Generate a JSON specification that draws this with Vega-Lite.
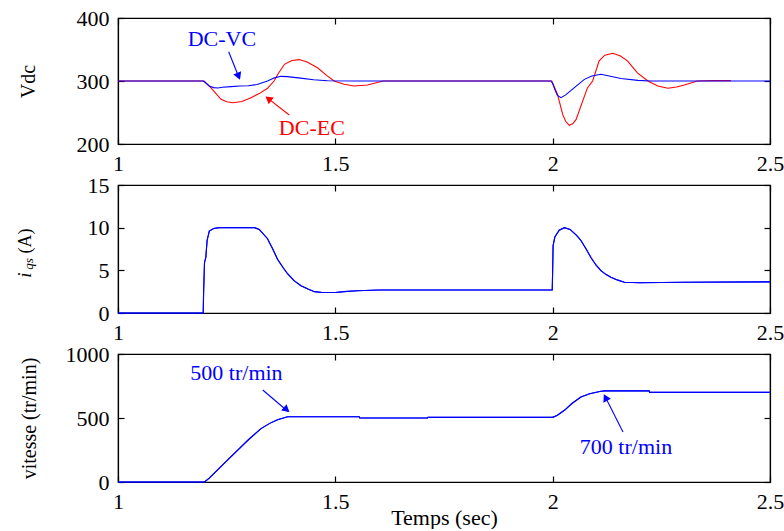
{
  "$schema": "https://vega.github.io/schema/vega-lite/v6.json",
  "padding": {"left": 15, "top": 6, "right": 0, "bottom": 0},
  "background": "white",
  "spacing": 41,
  "bounds": "flush",
  "config": {
    "font": "Liberation Serif",
    "view": {"stroke": "black", "strokeWidth": 1.2},
    "axis": {
      "grid": false,
      "domainColor": "black",
      "domainWidth": 1.2,
      "tickColor": "black",
      "tickSize": -6,
      "tickWidth": 1.2,
      "labelFont": "Liberation Serif",
      "labelFontSize": 22,
      "labelColor": "black",
      "labelPadding": 15,
      "labelFlush": false,
      "labelOverlap": false,
      "labelBound": false,
      "titleFont": "Liberation Serif",
      "titleFontSize": 20,
      "titleFontWeight": "normal",
      "titleColor": "black"
    }
  },
  "datasets": {
    "vdc": [
      {"serie": "DC-EC", "t": 1.0, "v": 300}, {"serie": "DC-EC", "t": 1.198, "v": 300}, {"serie": "DC-EC", "t": 1.214, "v": 289}, {"serie": "DC-EC", "t": 1.237, "v": 271}, {"serie": "DC-EC", "t": 1.25, "v": 267}, {"serie": "DC-EC", "t": 1.264, "v": 265.6}, {"serie": "DC-EC", "t": 1.285, "v": 267.5}, {"serie": "DC-EC", "t": 1.306, "v": 273.5}, {"serie": "DC-EC", "t": 1.325, "v": 280}, {"serie": "DC-EC", "t": 1.344, "v": 288.4}, {"serie": "DC-EC", "t": 1.359, "v": 300}, {"serie": "DC-EC", "t": 1.37, "v": 313}, {"serie": "DC-EC", "t": 1.383, "v": 326.5}, {"serie": "DC-EC", "t": 1.4, "v": 332.5}, {"serie": "DC-EC", "t": 1.417, "v": 334}, {"serie": "DC-EC", "t": 1.435, "v": 330}, {"serie": "DC-EC", "t": 1.459, "v": 321}, {"serie": "DC-EC", "t": 1.48, "v": 309}, {"serie": "DC-EC", "t": 1.497, "v": 300}, {"serie": "DC-EC", "t": 1.52, "v": 294.7}, {"serie": "DC-EC", "t": 1.543, "v": 292}, {"serie": "DC-EC", "t": 1.574, "v": 293.7}, {"serie": "DC-EC", "t": 1.61, "v": 300}, {"serie": "DC-EC", "t": 1.998, "v": 300}, {"serie": "DC-EC", "t": 2.004, "v": 290}, {"serie": "DC-EC", "t": 2.011, "v": 279}, {"serie": "DC-EC", "t": 2.023, "v": 247}, {"serie": "DC-EC", "t": 2.03, "v": 236}, {"serie": "DC-EC", "t": 2.038, "v": 229.7}, {"serie": "DC-EC", "t": 2.046, "v": 232}, {"serie": "DC-EC", "t": 2.054, "v": 239}, {"serie": "DC-EC", "t": 2.069, "v": 268}, {"serie": "DC-EC", "t": 2.08, "v": 289}, {"serie": "DC-EC", "t": 2.092, "v": 300}, {"serie": "DC-EC", "t": 2.107, "v": 332}, {"serie": "DC-EC", "t": 2.12, "v": 341}, {"serie": "DC-EC", "t": 2.138, "v": 344}, {"serie": "DC-EC", "t": 2.155, "v": 340}, {"serie": "DC-EC", "t": 2.172, "v": 332}, {"serie": "DC-EC", "t": 2.195, "v": 313}, {"serie": "DC-EC", "t": 2.219, "v": 300}, {"serie": "DC-EC", "t": 2.242, "v": 292}, {"serie": "DC-EC", "t": 2.265, "v": 288.4}, {"serie": "DC-EC", "t": 2.285, "v": 290.5}, {"serie": "DC-EC", "t": 2.303, "v": 293.7}, {"serie": "DC-EC", "t": 2.333, "v": 300}, {"serie": "DC-EC", "t": 2.37, "v": 300.6}, {"serie": "DC-EC", "t": 2.41, "v": 300.6},
      {"serie": "DC-VC", "t": 1.0, "v": 300}, {"serie": "DC-VC", "t": 1.196, "v": 300}, {"serie": "DC-VC", "t": 1.2, "v": 298}, {"serie": "DC-VC", "t": 1.21, "v": 292}, {"serie": "DC-VC", "t": 1.22, "v": 289.5}, {"serie": "DC-VC", "t": 1.23, "v": 289}, {"serie": "DC-VC", "t": 1.24, "v": 290}, {"serie": "DC-VC", "t": 1.26, "v": 291}, {"serie": "DC-VC", "t": 1.28, "v": 292}, {"serie": "DC-VC", "t": 1.3, "v": 292.5}, {"serie": "DC-VC", "t": 1.32, "v": 294.5}, {"serie": "DC-VC", "t": 1.344, "v": 300}, {"serie": "DC-VC", "t": 1.36, "v": 305}, {"serie": "DC-VC", "t": 1.375, "v": 307.4}, {"serie": "DC-VC", "t": 1.39, "v": 307}, {"serie": "DC-VC", "t": 1.42, "v": 304.5}, {"serie": "DC-VC", "t": 1.45, "v": 302}, {"serie": "DC-VC", "t": 1.482, "v": 300.3}, {"serie": "DC-VC", "t": 1.55, "v": 300}, {"serie": "DC-VC", "t": 1.996, "v": 300}, {"serie": "DC-VC", "t": 2.0, "v": 296}, {"serie": "DC-VC", "t": 2.006, "v": 285}, {"serie": "DC-VC", "t": 2.011, "v": 277}, {"serie": "DC-VC", "t": 2.019, "v": 273.5}, {"serie": "DC-VC", "t": 2.03, "v": 278}, {"serie": "DC-VC", "t": 2.05, "v": 289.4}, {"serie": "DC-VC", "t": 2.073, "v": 302.6}, {"serie": "DC-VC", "t": 2.09, "v": 308}, {"serie": "DC-VC", "t": 2.111, "v": 310.6}, {"serie": "DC-VC", "t": 2.13, "v": 308}, {"serie": "DC-VC", "t": 2.157, "v": 304}, {"serie": "DC-VC", "t": 2.196, "v": 301}, {"serie": "DC-VC", "t": 2.226, "v": 300}, {"serie": "DC-VC", "t": 2.5, "v": 300}
    ],
    "iqs": [
      {"t": 1.0, "i": 0}, {"t": 1.196, "i": 0}, {"t": 1.197, "i": 2.5}, {"t": 1.199, "i": 5.9}, {"t": 1.202, "i": 6.5}, {"t": 1.205, "i": 8.5}, {"t": 1.21, "i": 9.6}, {"t": 1.22, "i": 9.9}, {"t": 1.233, "i": 10}, {"t": 1.314, "i": 10}, {"t": 1.325, "i": 9.8}, {"t": 1.344, "i": 8.7}, {"t": 1.356, "i": 7.5}, {"t": 1.367, "i": 6.3}, {"t": 1.38, "i": 5.3}, {"t": 1.39, "i": 4.6}, {"t": 1.405, "i": 3.8}, {"t": 1.421, "i": 3.2}, {"t": 1.437, "i": 2.8}, {"t": 1.452, "i": 2.5}, {"t": 1.47, "i": 2.4}, {"t": 1.5, "i": 2.4}, {"t": 1.52, "i": 2.5}, {"t": 1.55, "i": 2.6}, {"t": 1.6, "i": 2.7}, {"t": 1.999, "i": 2.7}, {"t": 2.0, "i": 5}, {"t": 2.001, "i": 7.9}, {"t": 2.005, "i": 8.9}, {"t": 2.015, "i": 9.7}, {"t": 2.027, "i": 10.0}, {"t": 2.04, "i": 9.8}, {"t": 2.055, "i": 9.1}, {"t": 2.065, "i": 8.5}, {"t": 2.077, "i": 7.5}, {"t": 2.088, "i": 6.5}, {"t": 2.1, "i": 5.6}, {"t": 2.111, "i": 4.96}, {"t": 2.123, "i": 4.5}, {"t": 2.134, "i": 4.2}, {"t": 2.15, "i": 3.85}, {"t": 2.165, "i": 3.6}, {"t": 2.2, "i": 3.55}, {"t": 2.3, "i": 3.6}, {"t": 2.5, "i": 3.65}
    ],
    "vitesse": [
      {"t": 1.0, "w": 0}, {"t": 1.199, "w": 0}, {"t": 1.21, "w": 30}, {"t": 1.25, "w": 165}, {"t": 1.3, "w": 330}, {"t": 1.329, "w": 417}, {"t": 1.35, "w": 460}, {"t": 1.367, "w": 487}, {"t": 1.39, "w": 510}, {"t": 1.555, "w": 510}, {"t": 1.556, "w": 500}, {"t": 1.712, "w": 500}, {"t": 1.713, "w": 505}, {"t": 2.0, "w": 505}, {"t": 2.01, "w": 520}, {"t": 2.027, "w": 560}, {"t": 2.045, "w": 615}, {"t": 2.065, "w": 664}, {"t": 2.085, "w": 690}, {"t": 2.111, "w": 709}, {"t": 2.12, "w": 712}, {"t": 2.222, "w": 712}, {"t": 2.223, "w": 700}, {"t": 2.5, "w": 700}
    ]
  },
  "vconcat": [
    {
      "width": 652,
      "height": 126,
      "resolve": {"axis": {"x": "independent", "y": "independent"}},
      "layer": [
        {
          "data": {"name": "vdc"},
          "transform": [{"filter": "datum.serie == 'DC-EC'"}],
          "mark": {"type": "line", "color": "#ff0000", "strokeWidth": 1.1},
          "encoding": {
            "x": {"field": "t", "type": "quantitative", "scale": {"domain": [1, 2.5], "nice": false}, "axis": {"orient": "top", "labels": false, "title": null, "values": [1, 1.5, 2, 2.5]}},
            "y": {"field": "v", "type": "quantitative", "scale": {"domain": [200, 400], "nice": false}, "axis": {"orient": "right", "labels": false, "title": null, "values": [200, 300, 400]}}
          }
        },
        {
          "data": {"name": "vdc"},
          "transform": [{"filter": "datum.serie == 'DC-VC'"}],
          "mark": {"type": "line", "color": "#0000ff", "strokeWidth": 1.1},
          "encoding": {
            "x": {"field": "t", "type": "quantitative", "scale": {"domain": [1, 2.5], "nice": false}, "axis": {"orient": "bottom", "title": null, "values": [1, 1.5, 2, 2.5], "format": "~g"}},
            "y": {"field": "v", "type": "quantitative", "scale": {"domain": [200, 400], "nice": false}, "axis": {"orient": "left", "title": "Vdc", "titlePadding": 38, "values": [200, 300, 400], "format": "d"}}
          }
        },
        {
          "data": {"values": [{"t": 1.2546, "v": 346.5, "t2": 1.279, "v2": 304.3}]},
          "mark": {"type": "rule", "color": "#0000ff", "strokeWidth": 1.1},
          "encoding": {
            "x": {"field": "t", "type": "quantitative", "axis": null}, "y": {"field": "v", "type": "quantitative", "axis": null},
            "x2": {"field": "t2"}, "y2": {"field": "v2"}
          }
        },
        {
          "data": {"values": [{"t": 1.2775, "v": 307.5}]},
          "mark": {"type": "point", "shape": "triangle-up", "filled": true, "color": "#0000ff", "size": 70, "angle": 158, "opacity": 1},
          "encoding": {"x": {"field": "t", "type": "quantitative", "axis": null}, "y": {"field": "v", "type": "quantitative", "axis": null}}
        },
        {
          "data": {"values": [{"t": 1.394, "v": 246, "t2": 1.342, "v2": 274}]},
          "mark": {"type": "rule", "color": "#ff0000", "strokeWidth": 1.1},
          "encoding": {
            "x": {"field": "t", "type": "quantitative", "axis": null}, "y": {"field": "v", "type": "quantitative", "axis": null},
            "x2": {"field": "t2"}, "y2": {"field": "v2"}
          }
        },
        {
          "data": {"values": [{"t": 1.346, "v": 272}]},
          "mark": {"type": "point", "shape": "triangle-up", "filled": true, "color": "#ff0000", "size": 70, "angle": 308, "opacity": 1},
          "encoding": {"x": {"field": "t", "type": "quantitative", "axis": null}, "y": {"field": "v", "type": "quantitative", "axis": null}}
        },
        {
          "data": {"values": [{"t": 1.239, "v": 366, "lab": "DC-VC", "c": "DC-VC"}, {"t": 1.446, "v": 225.4, "lab": "DC-EC", "c": "DC-EC"}]},
          "mark": {"type": "text", "fontSize": 22, "align": "center", "baseline": "middle"},
          "encoding": {
            "x": {"field": "t", "type": "quantitative", "axis": null}, "y": {"field": "v", "type": "quantitative", "axis": null},
            "text": {"field": "lab"},
            "color": {"field": "c", "type": "nominal", "scale": {"domain": ["DC-VC", "DC-EC"], "range": ["#0000ff", "#ff0000"]}, "legend": null}
          }
        }
      ]
    },
    {
      "width": 652,
      "height": 128,
      "resolve": {"axis": {"x": "independent", "y": "independent"}},
      "layer": [
        {
          "data": {"name": "iqs"},
          "mark": {"type": "line", "color": "#0000ff", "strokeWidth": 1.1},
          "encoding": {
            "x": {"field": "t", "type": "quantitative", "scale": {"domain": [1, 2.5], "nice": false}, "axis": {"orient": "bottom", "title": null, "values": [1, 1.5, 2, 2.5], "format": "~g"}},
            "y": {"field": "i", "type": "quantitative", "scale": {"domain": [0, 15], "nice": false}, "axis": {"orient": "left", "title": null, "values": [0, 5, 10, 15]}}
          }
        },
        {
          "data": {"name": "iqs"},
          "mark": {"type": "line", "color": "#0000ff", "strokeWidth": 1.1},
          "encoding": {
            "x": {"field": "t", "type": "quantitative", "scale": {"domain": [1, 2.5], "nice": false}, "axis": {"orient": "top", "labels": false, "title": null, "values": [1, 1.5, 2, 2.5]}},
            "y": {"field": "i", "type": "quantitative", "scale": {"domain": [0, 15], "nice": false}, "axis": {"orient": "right", "labels": false, "title": null, "values": [0, 5, 10, 15]}}
          }
        },
        {
          "data": {"values": [{"t": 0.786, "v": 4.45, "lab": "i"}, {"t": 0.7953, "v": 5.74, "lab": "qs"}]},
          "mark": {"type": "text", "fontStyle": "italic", "angle": 270, "align": "center", "baseline": "middle", "color": "black"},
          "encoding": {
            "x": {"field": "t", "type": "quantitative", "axis": null}, "y": {"field": "v", "type": "quantitative", "axis": null},
            "text": {"field": "lab"},
            "size": {"field": "lab", "type": "nominal", "scale": {"domain": ["i", "qs"], "range": [19, 13]}, "legend": null}
          }
        },
        {
          "data": {"values": [{"t": 0.7872, "v": 8.44, "lab": "(A)"}]},
          "mark": {"type": "text", "fontSize": 18, "angle": 270, "align": "center", "baseline": "middle", "color": "black"},
          "encoding": {
            "x": {"field": "t", "type": "quantitative", "axis": null}, "y": {"field": "v", "type": "quantitative", "axis": null},
            "text": {"field": "lab"}
          }
        }
      ]
    },
    {
      "width": 652,
      "height": 128,
      "resolve": {"axis": {"x": "independent", "y": "independent"}},
      "layer": [
        {
          "data": {"name": "vitesse"},
          "mark": {"type": "line", "color": "#0000ff", "strokeWidth": 1.1},
          "encoding": {
            "x": {"field": "t", "type": "quantitative", "scale": {"domain": [1, 2.5], "nice": false}, "axis": {"orient": "bottom", "title": "Temps (sec)", "titleFontSize": 22, "titlePadding": -5, "values": [1, 1.5, 2, 2.5], "format": "~g"}},
            "y": {"field": "w", "type": "quantitative", "scale": {"domain": [0, 1000], "nice": false}, "axis": {"orient": "left", "title": "vitesse (tr/min)", "titlePadding": 26, "values": [0, 500, 1000], "format": "d"}}
          }
        },
        {
          "data": {"name": "vitesse"},
          "mark": {"type": "line", "color": "#0000ff", "strokeWidth": 1.1},
          "encoding": {
            "x": {"field": "t", "type": "quantitative", "scale": {"domain": [1, 2.5], "nice": false}, "axis": {"orient": "top", "labels": false, "title": null, "values": [1, 1.5, 2, 2.5]}},
            "y": {"field": "w", "type": "quantitative", "scale": {"domain": [0, 1000], "nice": false}, "axis": {"orient": "right", "labels": false, "title": null, "values": [0, 500, 1000]}}
          }
        },
        {
          "data": {"values": [{"t": 1.333, "v": 718.75, "t2": 1.3918, "v2": 549}, {"t": 2.1618, "v": 390.6, "t2": 2.1188, "v2": 679.7}]},
          "mark": {"type": "rule", "color": "#0000ff", "strokeWidth": 1.1},
          "encoding": {
            "x": {"field": "t", "type": "quantitative", "axis": null}, "y": {"field": "v", "type": "quantitative", "axis": null},
            "x2": {"field": "t2"}, "y2": {"field": "v2"}
          }
        },
        {
          "data": {"values": [{"t": 1.388, "v": 565}]},
          "mark": {"type": "point", "shape": "triangle-up", "filled": true, "color": "#0000ff", "size": 70, "angle": 130, "opacity": 1},
          "encoding": {"x": {"field": "t", "type": "quantitative", "axis": null}, "y": {"field": "v", "type": "quantitative", "axis": null}}
        },
        {
          "data": {"values": [{"t": 2.1215, "v": 660}]},
          "mark": {"type": "point", "shape": "triangle-up", "filled": true, "color": "#0000ff", "size": 70, "angle": 333, "opacity": 1},
          "encoding": {"x": {"field": "t", "type": "quantitative", "axis": null}, "y": {"field": "v", "type": "quantitative", "axis": null}}
        },
        {
          "data": {"values": [{"t": 1.2726, "v": 851.6, "lab": "500 tr/min"}, {"t": 2.1687, "v": 273, "lab": "700 tr/min"}]},
          "mark": {"type": "text", "fontSize": 22, "align": "center", "baseline": "middle", "color": "#0000ff"},
          "encoding": {
            "x": {"field": "t", "type": "quantitative", "axis": null}, "y": {"field": "v", "type": "quantitative", "axis": null},
            "text": {"field": "lab"}
          }
        }
      ]
    }
  ]
}
